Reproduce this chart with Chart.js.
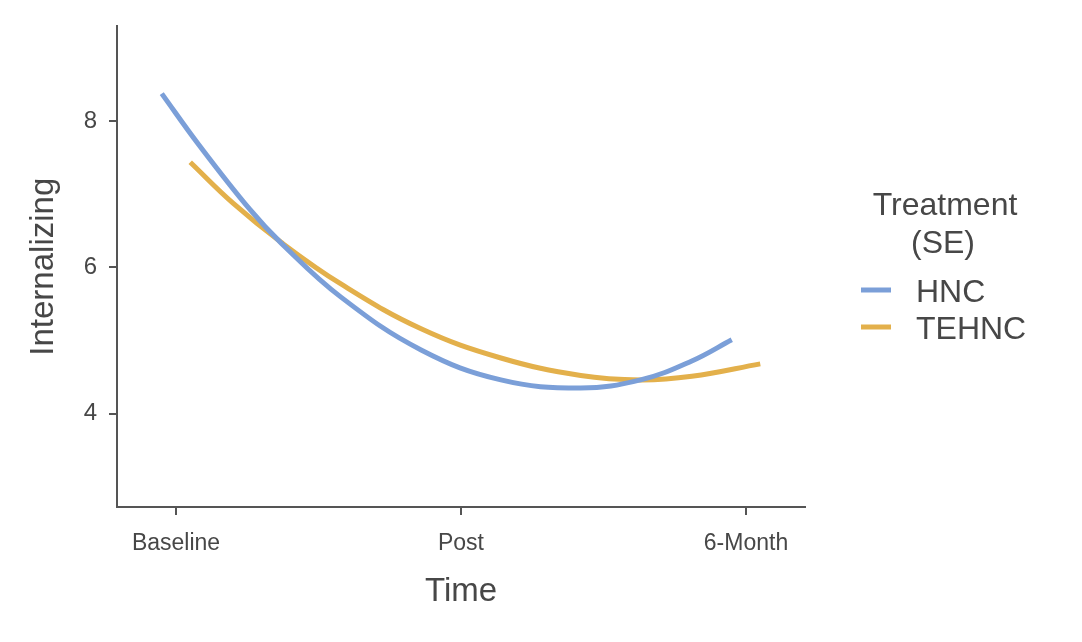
<!DOCTYPE html>
<html>
<head>
<meta charset="utf-8">
<script src="https://cdn.jsdelivr.net/npm/chart.js@4"></script>
<style>
  html, body { margin: 0; padding: 0; background: #fff; }
  #wrap { width: 1082px; height: 642px; position: relative; }
</style>
</head>
<body>
<div id="wrap"><canvas id="curveChart"></canvas></div>
<script>
// ======================
// DATA
// ======================
const timeTicks = [0, 1, 2];
const timeLabels = ["Baseline", "Post", "6-Month"];
const scoreTicks = [4, 6, 8];

const hncTime  = [-0.05, 0.08, 0.26, 0.37, 0.58, 0.86, 1.14, 1.42, 1.63, 1.81, 1.95];
const hncScore = [ 8.38, 7.68, 6.79, 6.33, 5.59, 4.87, 4.46, 4.35, 4.46, 4.72, 5.01];

const tehncTime  = [0.05, 0.20, 0.37, 0.58, 0.86, 1.14, 1.42, 1.63, 1.81, 2.05];
const tehncScore = [7.44, 6.88, 6.34, 5.77, 5.16, 4.76, 4.52, 4.46, 4.51, 4.68];

const seriesNames = ["HNC", "TEHNC"];
const seriesColors = ["#7b9fd8", "#e3b04b"];

const FONT = '"Liberation Sans", Arial, sans-serif';
const TEXT = "#474747";
const AXIS = "#555555";

function toPoints(xs, ys){
  return xs.map((x,i)=>({x:x, y:ys[i]}));
}

// legend drawn by hand (two-line centred title)
const sideLegend = {
  id: "sideLegend",
  afterDraw(chart){
    const ctx = chart.ctx;
    ctx.save();
    ctx.fillStyle = TEXT;
    ctx.font = "32px " + FONT;
    ctx.textAlign = "center";
    ctx.textBaseline = "alphabetic";
    ctx.fillText("Treatment", 945, 215);
    ctx.fillText("(SE)", 943, 253);
    ctx.textAlign = "left";
    const rows = [290, 327];
    seriesNames.forEach((name,i)=>{
      ctx.strokeStyle = seriesColors[i];
      ctx.lineWidth = 5;
      ctx.beginPath();
      ctx.moveTo(861, rows[i]);
      ctx.lineTo(891, rows[i]);
      ctx.stroke();
      ctx.fillText(name, 916, rows[i] + 12);
    });
    ctx.restore();
  }
};

new Chart(document.getElementById("curveChart"),{
type:"line",
data:{
datasets:[
{
label: seriesNames[0],
data: toPoints(hncTime, hncScore),
borderColor: seriesColors[0],
borderWidth: 5,
pointRadius: 0,
tension: 0.4,
fill: false
},
{
label: seriesNames[1],
data: toPoints(tehncTime, tehncScore),
borderColor: seriesColors[1],
borderWidth: 5,
pointRadius: 0,
tension: 0.4,
fill: false
}
]
},
options:{
responsive:true,
maintainAspectRatio:false,
animation:false,
layout:{padding:{top:20,right:277,bottom:0,left:0}},
plugins:{
legend:{display:false},
tooltip:{enabled:false}
},
scales:{
x:{
type:"linear",
min:-0.207,
max:2.207,
afterFit: s => { s.height = 135; },
afterBuildTicks: s => { s.ticks = timeTicks.map(v=>({value:v})); },
ticks:{
callback: v => timeLabels[timeTicks.indexOf(v)],
color:TEXT,
font:{family:FONT,size:23},
padding:15,
maxRotation:0,
autoSkip:false
},
grid:{drawOnChartArea:false,drawTicks:true,tickLength:8,color:AXIS,lineWidth:2},
border:{display:true,color:AXIS,width:2},
title:{display:true,text:"Time",color:TEXT,font:{family:FONT,size:33},padding:{top:0,bottom:30}}
},
y:{
min:2.72,
max:9.3,
afterFit: s => { s.width = 117; },
afterBuildTicks: s => { s.ticks = scoreTicks.map(v=>({value:v})); },
ticks:{
color:TEXT,
font:{family:FONT,size:24},
padding:12
},
grid:{drawOnChartArea:false,drawTicks:true,tickLength:8,color:AXIS,lineWidth:2},
border:{display:true,color:AXIS,width:2},
title:{display:true,text:"Internalizing",color:TEXT,font:{family:FONT,size:33},padding:{top:24,bottom:0}}
}
}
},
plugins:[sideLegend]
});
</script>
</body>
</html>
